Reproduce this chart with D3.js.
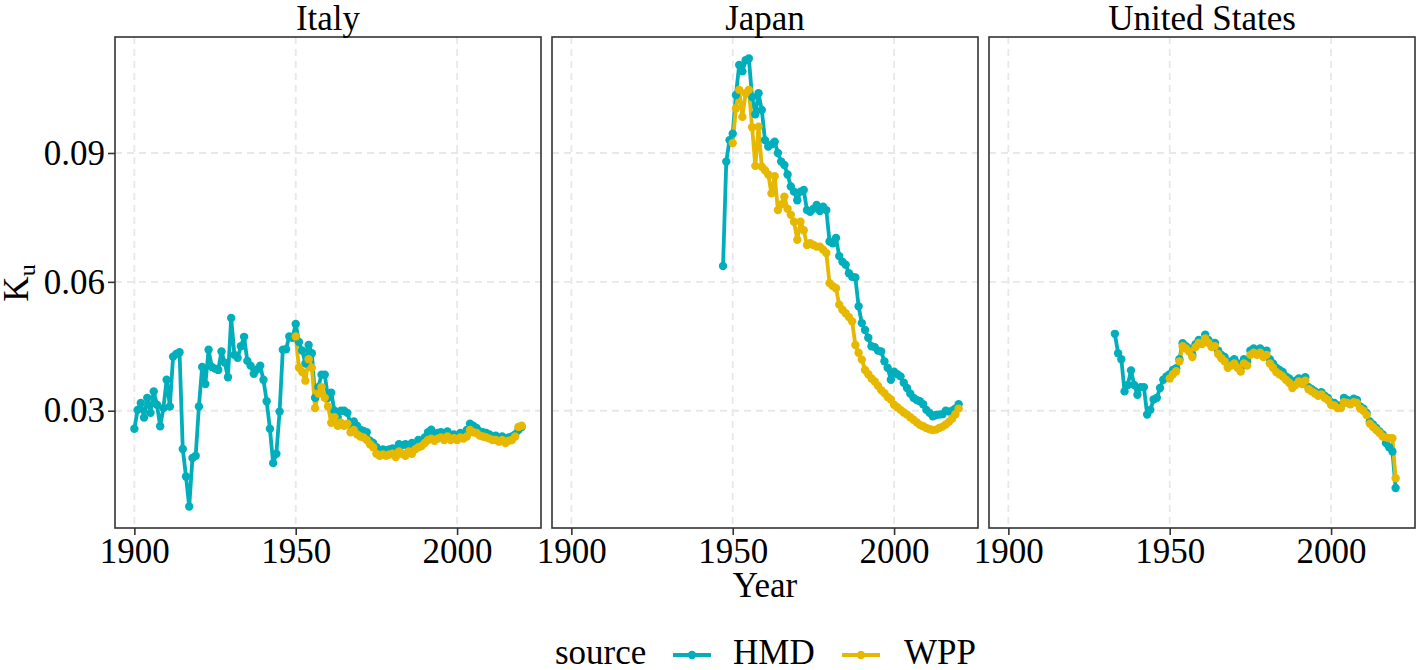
<!DOCTYPE html>
<html><head><meta charset="utf-8">
<script src="https://cdn.jsdelivr.net/npm/d3@7"></script>
<style>
body{margin:0;background:#fff}
text{font-family:"Liberation Serif","Times New Roman",serif;fill:#000}
</style>
</head><body>
<svg id="c" width="1417" height="670"></svg>
<script>
// ---------- data ----------
const countries = ["Italy", "Japan", "United States"];
const sources = ["HMD", "WPP"];
const xTicks = [1900, 1950, 2000];
const yTicks = [0.03, 0.06, 0.09];

const italyHMDStart = 1900;
const italyHMD = [
0.0258,0.0302,0.0318,0.0284,0.0330,0.0295,0.0345,0.0314,0.0264,0.0306,
0.0372,0.0310,0.0426,0.0432,0.0436,0.0211,0.0147,0.0077,0.0190,0.0195,
0.0310,0.0402,0.0362,0.0442,0.0402,0.0398,0.0395,0.0438,0.0412,0.0378,
0.0516,0.0430,0.0423,0.0450,0.0472,0.0416,0.0405,0.0386,0.0396,0.0405,
0.0372,0.0322,0.0258,0.0178,0.0200,0.0298,0.0442,0.0443,0.0473,0.0470,
0.0502,0.0460,0.0440,0.0410,0.0453,0.0434,0.0330,0.0355,0.0384,0.0384,
0.0330,0.0342,0.0300,0.0285,0.0300,0.0300,0.0295,0.0270,0.0275,0.0265,
0.0256,0.0253,0.0250,0.0230,0.0225,0.0215,0.0205,0.0210,0.0208,0.0210,
0.0212,0.0205,0.0222,0.0220,0.0222,0.0215,0.0225,0.0220,0.0232,0.0228,
0.0238,0.0250,0.0256,0.0245,0.0248,0.0250,0.0245,0.0252,0.0240,0.0245,
0.0242,0.0248,0.0245,0.0255,0.0270,0.0265,0.0260,0.0252,0.0250,0.0248,
0.0245,0.0240,0.0242,0.0235,0.0240,0.0232,0.0238,0.0240,0.0245,0.0255,
0.0262];

const italyWPPStart = 1950;
const italyWPP = [
0.0473,0.0400,0.0390,0.0370,0.0420,0.0400,0.0306,0.0340,0.0355,0.0330,
0.0310,0.0272,0.0285,0.0265,0.0272,0.0265,0.0270,0.0250,0.0255,0.0245,
0.0240,0.0238,0.0232,0.0222,0.0215,0.0200,0.0195,0.0198,0.0195,0.0198,
0.0200,0.0192,0.0205,0.0200,0.0195,0.0205,0.0200,0.0210,0.0215,0.0218,
0.0225,0.0232,0.0235,0.0230,0.0235,0.0238,0.0232,0.0240,0.0232,0.0236,
0.0232,0.0238,0.0235,0.0240,0.0255,0.0250,0.0248,0.0242,0.0240,0.0238,
0.0235,0.0232,0.0232,0.0228,0.0232,0.0225,0.0230,0.0232,0.0240,0.0262,
0.0265];

const japanHMDStart = 1947;
const japanHMD = [
0.0637,0.0880,0.0930,
0.0945,0.1035,0.1105,0.1090,0.1116,0.1120,0.1030,0.0990,0.1039,0.1000,
0.0930,0.0915,0.0920,0.0926,0.0900,0.0880,0.0872,0.0850,0.0822,0.0810,
0.0790,0.0810,0.0814,0.0767,0.0763,0.0770,0.0779,0.0765,0.0775,0.0767,
0.0694,0.0690,0.0702,0.0660,0.0647,0.0640,0.0620,0.0612,0.0610,0.0543,
0.0504,0.0488,0.0470,0.0450,0.0448,0.0440,0.0438,0.0415,0.0400,0.0372,
0.0391,0.0385,0.0380,0.0365,0.0353,0.0340,0.0330,0.0325,0.0322,0.0315,
0.0302,0.0295,0.0287,0.0290,0.0291,0.0292,0.0300,0.0298,0.0300,0.0305,
0.0315];

const japanWPPStart = 1950;
const japanWPP = [
0.0923,0.1004,0.1047,0.0984,0.1039,0.1047,0.0960,0.0870,0.0961,0.0868,
0.0860,0.0850,0.0806,0.0846,0.0767,0.0780,0.0798,0.0770,0.0756,0.0740,
0.0698,0.0740,0.0720,0.0686,0.0690,0.0686,0.0682,0.0682,0.0675,0.0667,
0.0597,0.0590,0.0585,0.0547,0.0535,0.0527,0.0518,0.0508,0.0453,0.0435,
0.0419,0.0395,0.0385,0.0375,0.0368,0.0358,0.0348,0.0341,0.0332,0.0326,
0.0314,0.0308,0.0302,0.0296,0.0291,0.0285,0.0279,0.0273,0.0267,0.0264,
0.0260,0.0257,0.0255,0.0256,0.0260,0.0263,0.0268,0.0274,0.0282,0.0292,
0.0305];

const usHMDStart = 1933;
const usHMD = [
0.0479,0.0434,0.0420,0.0345,0.0360,0.0394,0.0360,
0.0337,0.0355,0.0355,0.0291,0.0302,0.0326,0.0330,0.0353,0.0372,0.0380,
0.0385,0.0395,0.0399,0.0420,0.0457,0.0450,0.0445,0.0430,0.0455,0.0465,
0.0460,0.0477,0.0465,0.0455,0.0458,0.0440,0.0430,0.0425,0.0410,0.0415,
0.0420,0.0410,0.0400,0.0420,0.0415,0.0440,0.0445,0.0440,0.0445,0.0435,
0.0440,0.0420,0.0410,0.0400,0.0395,0.0390,0.0380,0.0375,0.0365,0.0370,
0.0375,0.0370,0.0378,0.0355,0.0350,0.0345,0.0340,0.0343,0.0335,0.0330,
0.0320,0.0318,0.0312,0.0312,0.0330,0.0325,0.0322,0.0328,0.0325,0.0310,
0.0305,0.0295,0.0275,0.0268,0.0260,0.0252,0.0245,0.0225,0.0215,0.0205,
0.0120];

const usWPPStart = 1950;
const usWPP = [
0.0375,0.0385,0.0392,0.0415,0.0450,0.0445,0.0438,0.0425,0.0448,0.0458,
0.0455,0.0468,0.0458,0.0448,0.0450,0.0432,0.0422,0.0415,0.0400,0.0405,
0.0410,0.0400,0.0391,0.0410,0.0405,0.0430,0.0435,0.0430,0.0435,0.0425,
0.0430,0.0410,0.0400,0.0390,0.0385,0.0380,0.0372,0.0365,0.0353,0.0360,
0.0368,0.0362,0.0370,0.0350,0.0345,0.0340,0.0335,0.0338,0.0330,0.0325,
0.0314,0.0312,0.0306,0.0306,0.0320,0.0318,0.0315,0.0320,0.0318,0.0305,
0.0300,0.0290,0.0270,0.0262,0.0255,0.0248,0.0240,0.0238,0.0236,0.0236,
0.0143];

// ---------- build ----------
const toPts = (start, arr) => arr.map((v, i) => ({year: start + i, value: v}));
const panelData = {
  "Italy": {HMD: toPts(italyHMDStart, italyHMD), WPP: toPts(italyWPPStart, italyWPP)},
  "Japan": {HMD: toPts(japanHMDStart, japanHMD), WPP: toPts(japanWPPStart, japanWPP)},
  "United States": {HMD: toPts(usHMDStart, usHMD), WPP: toPts(usWPPStart, usWPP)}
};
const color = d3.scaleOrdinal().domain(sources).range(["#00AFBB", "#E7B800"]);

const svg = d3.select("#c");
const panelLefts = [115, 552, 989];
const panelW = 426, panelTop = 37, panelH = 491;
const FS = 35;
const LW = 3.8, PR = 4.2;

const x = d3.scaleLinear().domain([1894, 2026]).range([0, panelW]);
const y = d3.scaleLinear().domain([0.0027, 0.1170]).range([panelH, 0]);

countries.forEach((c, ci) => {
  const g = svg.append("g").attr("transform", `translate(${panelLefts[ci]},${panelTop})`);
  // grid
  g.selectAll(".gx").data(xTicks).join("line")
    .attr("x1", d => x(d)).attr("x2", d => x(d)).attr("y1", 0).attr("y2", panelH)
    .attr("stroke", "#e8e8e8").attr("stroke-width", 1.8).attr("stroke-dasharray", "7,5");
  g.selectAll(".gy").data(yTicks).join("line")
    .attr("y1", d => y(d)).attr("y2", d => y(d)).attr("x1", 0).attr("x2", panelW)
    .attr("stroke", "#e8e8e8").attr("stroke-width", 1.8).attr("stroke-dasharray", "7,5");

  const line = d3.line().x(d => x(d.year)).y(d => y(d.value));
  sources.forEach(s => {
    g.append("path").datum(panelData[c][s]).attr("d", line)
      .attr("fill", "none").attr("stroke", color(s)).attr("stroke-width", LW)
      .attr("stroke-linejoin", "round");
  });
  sources.forEach(s => {
    g.append("g").selectAll("circle").data(panelData[c][s]).join("circle")
      .attr("cx", d => x(d.year)).attr("cy", d => y(d.value)).attr("r", PR)
      .attr("fill", color(s));
  });

  // border
  g.append("rect").attr("width", panelW).attr("height", panelH)
    .attr("fill", "none").attr("stroke", "#333").attr("stroke-width", 1.6);

  // x axis
  const xa = g.append("g").attr("transform", `translate(0,${panelH})`)
    .call(d3.axisBottom(x).tickValues(xTicks).tickFormat(d3.format("d")).tickSize(7).tickPadding(3));
  xa.select(".domain").remove();
  xa.selectAll("line").attr("stroke", "#333").attr("stroke-width", 1.6);
  xa.selectAll("text").attr("font-size", FS).attr("font-family", "Liberation Serif").attr("fill", "#000");

  if (ci === 0) {
    const ya = g.append("g")
      .call(d3.axisLeft(y).tickValues(yTicks).tickFormat(d3.format(".2f")).tickSize(7).tickPadding(3));
    ya.select(".domain").remove();
    ya.selectAll("line").attr("stroke", "#333").attr("stroke-width", 1.6);
    ya.selectAll("text").attr("font-size", FS).attr("font-family", "Liberation Serif").attr("fill", "#000");
  }

  // strip title
  svg.append("text").attr("x", panelLefts[ci] + panelW / 2).attr("y", 30)
    .attr("text-anchor", "middle").attr("font-size", FS).text(c);
});

// axis titles
svg.append("text").attr("x", panelLefts[1] + panelW / 2).attr("y", 597)
  .attr("text-anchor", "middle").attr("font-size", FS).text("Year");
const yl = svg.append("text").attr("transform", "translate(28,283) rotate(-90)")
  .attr("text-anchor", "middle").attr("font-size", FS);
yl.append("tspan").text("K");
yl.append("tspan").attr("dy", 7).attr("font-size", 24).text("u");

// legend
const lg = svg.append("g");
lg.append("text").attr("x", 555).attr("y", 664).attr("font-size", FS).text("source");
const keyX = [673, 842], labX = [733, 904];
sources.forEach((s, i) => {
  lg.append("line").attr("x1", keyX[i]).attr("x2", keyX[i] + 38).attr("y1", 655).attr("y2", 655)
    .attr("stroke", color(s)).attr("stroke-width", LW);
  lg.append("circle").attr("cx", keyX[i] + 19).attr("cy", 655).attr("r", PR).attr("fill", color(s));
  lg.append("text").attr("x", labX[i]).attr("y", 664).attr("font-size", FS).text(s);
});
</script>
</body></html>
